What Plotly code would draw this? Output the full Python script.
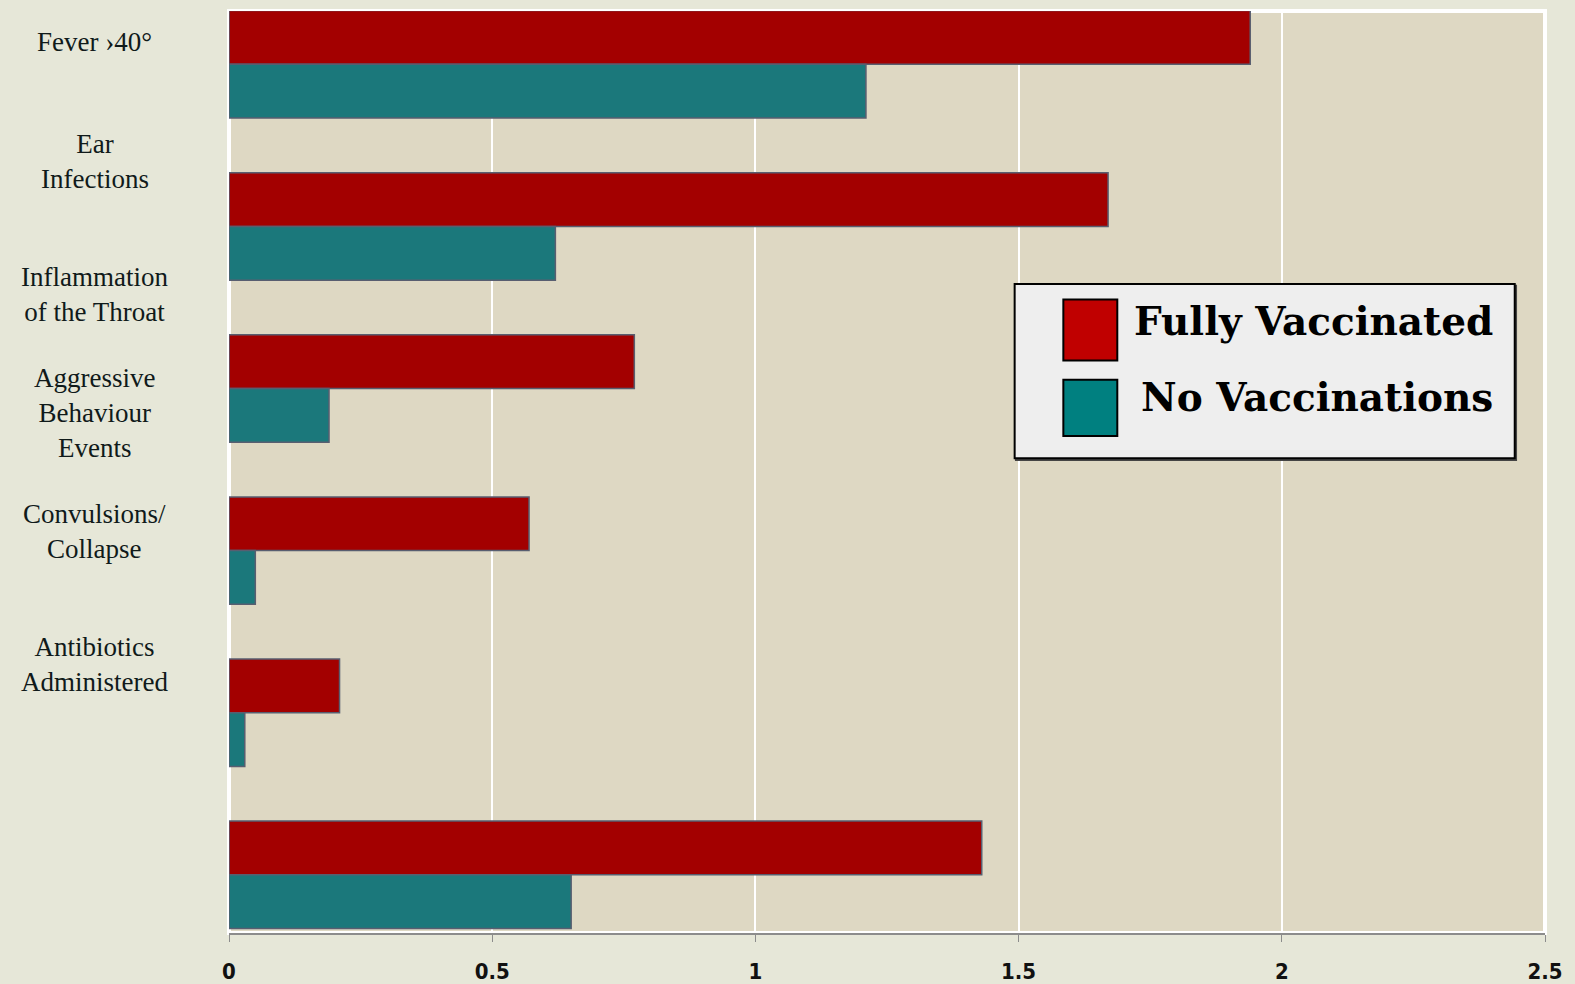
import plotly.graph_objects as go

categories = [
    "Fever ›40°",
    "Ear<br>Infections",
    "Inflammation<br>of the Throat",
    "Aggressive<br>Behaviour<br>Events",
    "Convulsions/<br>Collapse",
    "Antibiotics<br>Administered",
]
fully_vaccinated = [1.94, 1.67, 0.77, 0.57, 0.21, 1.43]
no_vaccinations = [1.21, 0.62, 0.19, 0.05, 0.03, 0.65]
series_names = ["Fully Vaccinated", "No Vaccinations"]
x_ticks = [0, 0.5, 1, 1.5, 2, 2.5]
x_tick_text = ["0", "0.5", "1", "1.5", "2", "2.5"]

# where the category text sits (in category units, as in the original slide)
label_pos = [-0.135, 0.60, 1.42, 2.15, 2.88, 3.70]

PAPER = "#E6E7D8"
PLOT = "#DED8C3"
BAR_EDGE = "rgb(88,94,112)"

fig = go.Figure()
fig.add_trace(
    go.Bar(
        y=list(range(len(categories))),
        x=fully_vaccinated,
        orientation="h",
        name=series_names[0],
        marker=dict(color="#A30000", line=dict(color=BAR_EDGE, width=1.5)),
    )
)
fig.add_trace(
    go.Bar(
        y=list(range(len(categories))),
        x=no_vaccinations,
        orientation="h",
        name=series_names[1],
        marker=dict(color="#1B787B", line=dict(color=BAR_EDGE, width=1.5)),
    )
)

# category labels
for pos, txt in zip(label_pos, categories):
    fig.add_annotation(
        x=-0.102,
        xref="paper",
        y=pos,
        yref="y",
        text=txt,
        showarrow=False,
        xanchor="center",
        yanchor="middle",
        align="center",
        font=dict(family="Liberation Serif, serif", size=27, color="#101A1A"),
    )

# white frame round the plot area
fig.add_shape(
    type="rect", xref="paper", yref="paper", x0=0, x1=1, y0=0, y1=1,
    line=dict(color="white", width=4), layer="below",
)

# legend box, drawn like the pasted legend in the original
fig.add_shape(
    type="rect", xref="paper", yref="paper", x0=0.598, x1=0.978, y0=0.513, y1=0.702,
    line=dict(color="#444444", width=2), fillcolor="#666666", layer="above",
)
fig.add_shape(
    type="rect", xref="paper", yref="paper", x0=0.597, x1=0.977, y0=0.515, y1=0.704,
    line=dict(color="black", width=2), fillcolor="#EEEEEE", layer="above",
)
swatches = [("#C00000", 0.621, 0.687), ("#008080", 0.539, 0.600)]
for col, y0, y1 in swatches:
    fig.add_shape(
        type="rect", xref="paper", yref="paper", x0=0.634, x1=0.675, y0=y0, y1=y1,
        line=dict(color="black", width=2), fillcolor=col, layer="above",
    )
for name, yc in zip(series_names, [0.664, 0.581]):
    fig.add_annotation(
        x=0.962, xref="paper", y=yc, yref="paper",
        text=f"<b>{name}</b>", showarrow=False,
        xanchor="right", yanchor="middle",
        font=dict(family="DejaVu Serif, serif", size=39, color="black"),
    )

fig.update_layout(
    width=1575,
    height=984,
    barmode="group",
    bargap=0.337,
    bargroupgap=0,
    showlegend=False,
    paper_bgcolor=PAPER,
    plot_bgcolor=PLOT,
    margin=dict(l=229, r=30, t=11, b=51, autoexpand=False),
    xaxis=dict(
        range=[0, 2.5],
        tickvals=x_ticks,
        ticktext=x_tick_text,
        automargin=False,
        showgrid=True,
        gridcolor="white",
        gridwidth=2,
        zeroline=False,
        showline=True,
        linecolor="#8C8C8C",
        linewidth=1.5,
        ticks="outside",
        ticklen=7,
        tickcolor="#8C8C8C",
        ticklabelstandoff=11,
        tickfont=dict(
            family="Liberation Sans Narrow, DejaVu Sans Condensed, sans-serif",
            size=22,
            color="#111111",
            weight="bold",
        ),
    ),
    yaxis=dict(
        range=[5.359, -0.329],
        automargin=False,
        showticklabels=False,
        showgrid=False,
        zeroline=False,
        showline=False,
        ticks="",
    ),
)

fig.write_html(
    "out.html",
    config={"displayModeBar": False},
    post_script="document.body.style.margin='0';",
)
